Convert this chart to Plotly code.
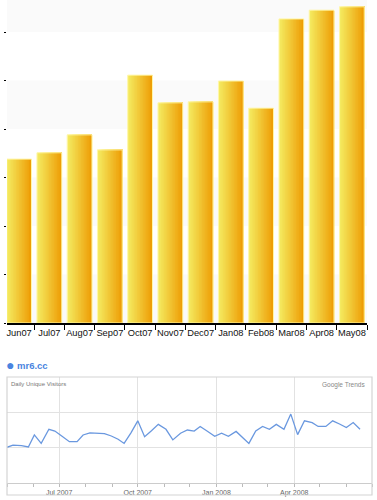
import plotly.graph_objects as go

# ---- top bar chart data ----
months = ["Jun07", "Jul07", "Aug07", "Sep07", "Oct07", "Nov07",
          "Dec07", "Jan08", "Feb08", "Mar08", "Apr08", "May08"]
visits = [3.38, 3.51, 3.88, 3.57, 5.11, 4.54, 4.56, 4.99, 4.43, 6.27, 6.45, 6.52]

# ---- bottom trends data ----
trend_dates = ["2007-05-01", "2007-05-08", "2007-05-18", "2007-05-26", "2007-06-02",
               "2007-06-10", "2007-06-19", "2007-06-26", "2007-07-04", "2007-07-13",
               "2007-07-22", "2007-07-29", "2007-08-06", "2007-08-14", "2007-08-23",
               "2007-08-31", "2007-09-08", "2007-09-15", "2007-09-23", "2007-10-01",
               "2007-10-09", "2007-10-17", "2007-10-25", "2007-11-03", "2007-11-11",
               "2007-11-20", "2007-11-28", "2007-12-06", "2007-12-13", "2007-12-21",
               "2007-12-30", "2008-01-07", "2008-01-15", "2008-01-24", "2008-02-01",
               "2008-02-08", "2008-02-16", "2008-02-24", "2008-03-03", "2008-03-11",
               "2008-03-20", "2008-03-28", "2008-04-05", "2008-04-13", "2008-04-22",
               "2008-04-29", "2008-05-08", "2008-05-16", "2008-05-24", "2008-06-01",
               "2008-06-09", "2008-06-17"]
trend_values = [1.01, 1.07, 1.06, 1.02, 1.36, 1.12, 1.52, 1.47, 1.33, 1.17,
                1.17, 1.36, 1.42, 1.42, 1.40, 1.33, 1.24, 1.12, 1.42, 1.76,
                1.31, 1.48, 1.66, 1.52, 1.22, 1.41, 1.50, 1.47, 1.60, 1.47,
                1.32, 1.41, 1.32, 1.46, 1.27, 1.12, 1.47, 1.60, 1.52, 1.66,
                1.52, 1.95, 1.37, 1.76, 1.71, 1.60, 1.60, 1.76, 1.67, 1.57,
                1.71, 1.52]

W, H = 377, 500
fig = go.Figure()

# gradient bars: overlapping slices from left (yellow) to right (orange)
bar_w = 0.82
N = 16
c0 = (244, 234, 96)
c1 = (238, 158, 6)
for i in range(N):
    t = i / (N - 1)
    col = "rgb(%d,%d,%d)" % tuple(round(a + (b - a) * t) for a, b in zip(c0, c1))
    off = -bar_w / 2 + i * bar_w / N
    fig.add_trace(go.Bar(
        x=months, y=visits, xaxis="x", yaxis="y",
        width=bar_w - i * bar_w / N, offset=off,
        marker=dict(color=col, line=dict(width=0)),
        showlegend=False, hoverinfo="skip"))
# outline
fig.add_trace(go.Bar(
    x=months, y=visits, xaxis="x", yaxis="y", width=bar_w, offset=-bar_w / 2,
    marker=dict(color="rgba(0,0,0,0)", line=dict(color="#fff6a8", width=1)),
    showlegend=False, hoverinfo="skip"))

# trends line
fig.add_trace(go.Scatter(
    x=trend_dates, y=trend_values, xaxis="x2", yaxis="y2", mode="lines",
    line=dict(color="#6a98df", width=1.3), showlegend=False, name="mr6.cc"))

x_dom = [7 / W, 367 / W]
x2_dom = [7 / W, 372 / W]
y_dom = [(H - 323) / H, 1.0]
y2_dom = [(H - 483) / H, (H - 377) / H]

shapes = []
for lo, hi in [(6, 7), (4, 5), (2, 3), (0, 1)]:
    shapes.append(dict(type="rect", xref="paper", yref="y", x0=x_dom[0], x1=x_dom[1],
                       y0=lo, y1=hi, fillcolor="#fafafa", line=dict(width=0), layer="below"))
# outer box of trends panel
shapes.append(dict(type="rect", xref="paper", yref="paper", x0=7 / W, x1=372 / W,
                   y0=(H - 495) / H, y1=(H - 377) / H, line=dict(color="#d4d4d4", width=1.2),
                   fillcolor="rgba(0,0,0,0)"))

fig.update_layout(
    width=W, height=H, margin=dict(l=0, r=0, t=0, b=0, autoexpand=False),
    paper_bgcolor="white", plot_bgcolor="white", barmode="overlay",
    font=dict(family="Liberation Sans, Arial, sans-serif"),
    xaxis=dict(domain=x_dom, type="category", range=[-0.4, 11.5], anchor="y",
               automargin=False, tickangle=0,
               showline=True, linecolor="black", linewidth=1.5,
               ticks="outside", tickson="boundaries", ticklen=5, tickcolor="black",
               tickfont=dict(size=9.3, color="#111"), showgrid=False),
    yaxis=dict(domain=y_dom, range=[0, 6.66], anchor="x", showgrid=False, automargin=False,
               zeroline=False, showticklabels=False, ticks="outside", ticklen=2,
               tickcolor="black", dtick=1),
    xaxis2=dict(domain=x2_dom, type="date", range=["2007-05-01", "2008-07-01"], anchor="y2",
                automargin=False, tickangle=0,
                showline=True, linecolor="#cccccc", showgrid=True, gridcolor="#e2e2e2",
                tick0="2007-01-01", dtick="M3", tickformat="%b %Y",
                ticks="outside", ticklen=3, tickcolor="#bbbbbb",
                tickfont=dict(size=7, color="#666"),
                minor=dict(dtick="M1", ticks="outside", ticklen=3, tickcolor="#bbbbbb",
                           showgrid=False)),
    yaxis2=dict(domain=y2_dom, range=[0, 3], anchor="x2", showgrid=True, gridcolor="#e2e2e2",
                automargin=False,
                zeroline=False, showticklabels=False, dtick=1),
    shapes=shapes,
    annotations=[
        dict(text="●", x=4 / W, y=(H - 365) / H, xref="paper", yref="paper",
             xanchor="left", yanchor="middle", showarrow=False,
             font=dict(size=14, color="#4a84e0")),
        dict(text="<b>mr6.cc</b>", x=15 / W, y=(H - 365) / H, xref="paper", yref="paper",
             xanchor="left", yanchor="middle", showarrow=False,
             font=dict(size=9.5, color="#4a84e0")),
        dict(text="Daily Unique Visitors", x=9 / W, y=(H - 379) / H, xref="paper",
             yref="paper", xanchor="left", yanchor="top", showarrow=False,
             font=dict(size=6, color="#777")),
        dict(text="Google Trends", x=367 / W, y=(H - 379) / H, xref="paper",
             yref="paper", xanchor="right", yanchor="top", showarrow=False,
             font=dict(size=6.5, color="#888")),
    ],
)

fig.write_html("out.html", config={"displayModeBar": False},
               post_script="document.body.style.margin='0';document.body.style.padding='0';"
                           "document.body.style.overflow='hidden';")
